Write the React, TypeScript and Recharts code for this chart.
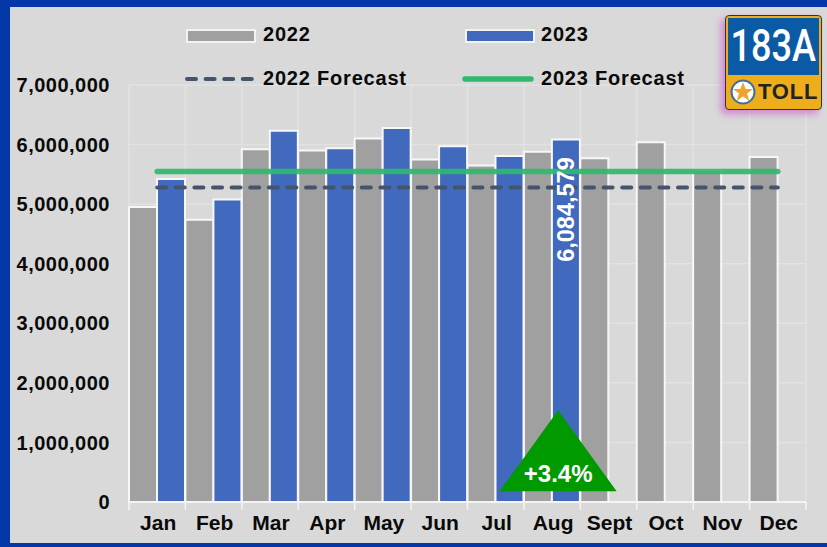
import React from "react";
import { ComposedChart, Bar, Line, XAxis, YAxis, CartesianGrid, ReferenceDot } from "recharts";

const months = ["Jan", "Feb", "Mar", "Apr", "May", "Jun", "Jul", "Aug", "Sept", "Oct", "Nov", "Dec"];
const values2022 = [4950000, 4740000, 5920000, 5900000, 6100000, 5750000, 5650000, 5880000, 5770000, 6040000, 5570000, 5790000];
const values2023 = [5420000, 5080000, 6230000, 5940000, 6280000, 5970000, 5810000, 6084579, null, null, null, null];
const forecast2022 = [5280000, 5280000, 5280000, 5280000, 5280000, 5280000, 5280000, 5280000, 5280000, 5280000, 5280000, 5280000];
const forecast2023 = [5550000, 5550000, 5550000, 5550000, 5550000, 5550000, 5550000, 5550000, 5550000, 5550000, 5550000, 5550000];
const yTicks = [0, 1000000, 2000000, 3000000, 4000000, 5000000, 6000000, 7000000];
const labeledMonth = "Aug";
const changeLabel = "+3.4%";

const data = months.map((m, i) => ({
  month: m,
  y2022: values2022[i],
  y2023: values2023[i],
  f2022: forecast2022[i],
  f2023: forecast2023[i],
}));

const FONT = "'Liberation Sans', Arial, sans-serif";
const GRAY = "#a0a0a0";
const BLUE = "#4169be";
const GREEN = "#2fb86e";
const SLATE = "#44546a";
const PLOT_LEFT = 129;
const PLOT_W = 677;
const BAND = PLOT_W / 12;

const XTick = (props: any) => {
  const { x, y, payload, index } = props;
  const bx = x - BAND / 2;
  return (
    <g>
      <line x1={bx} x2={bx} y1={y - 8} y2={y} stroke="#f4f4f4" strokeWidth={1.5} />
      {index === 11 && <line x1={bx + BAND} x2={bx + BAND} y1={y - 8} y2={y} stroke="#f4f4f4" strokeWidth={1.5} />}
      <text x={x + 1} y={y + 20} textAnchor="middle" fontFamily={FONT} fontWeight={700} fontSize={21} fill="#0a0a0a">
        {payload.value}
      </text>
    </g>
  );
};

const AugLabel = (props: any) => {
  const { x, y, width, index, value } = props;
  if (months[index] !== labeledMonth) return null;
  const cx = x + width / 2;
  const cy = y + 70;
  return (
    <text
      x={cx}
      y={cy}
      transform={`rotate(-90 ${cx} ${cy})`}
      textAnchor="middle"
      dominantBaseline="central"
      fontFamily={FONT}
      fontWeight={700}
      fontSize={23.5}
      fill="#fff"
    >
      {Number(value).toLocaleString("en-US")}
    </text>
  );
};

const Triangle = (props: any) => {
  const { cx, cy } = props;
  const ax = cx + 6;
  return (
    <g>
      <polygon points={`${ax},${cy} ${ax + 58.5},${cy + 81} ${ax - 58.5},${cy + 81}`} fill="#009900" />
      <text x={ax} y={cy + 72} textAnchor="middle" fontFamily={FONT} fontWeight={700} fontSize={24} fill="#fff">
        {changeLabel}
      </text>
    </g>
  );
};

const legendText: React.CSSProperties = {
  position: "absolute",
  fontFamily: FONT,
  fontWeight: 700,
  fontSize: 20,
  letterSpacing: 0.8,
  color: "#0a0a0a",
  lineHeight: "22px",
  whiteSpace: "nowrap",
};

const LegendSwatch = ({ x, y, color }: { x: number; y: number; color: string }) => (
  <div
    style={{
      position: "absolute",
      left: x,
      top: y,
      width: 66,
      height: 10,
      background: color,
      border: "2px solid #f2f2f2",
      boxSizing: "content-box",
    }}
  />
);

const LegendLine = ({ x, y, color, dashed }: { x: number; y: number; color: string; dashed?: boolean }) => (
  <svg style={{ position: "absolute", left: x, top: y - 5 }} width={72} height={10}>
    <line
      x1={3}
      x2={69}
      y1={5}
      y2={5}
      stroke={color}
      strokeWidth={dashed ? 4 : 5.5}
      strokeLinecap="round"
      strokeDasharray={dashed ? "9 9.6" : undefined}
    />
  </svg>
);

const Logo = () => (
  <div
    style={{
      position: "absolute",
      left: 725,
      top: 15,
      width: 97,
      height: 95,
      boxSizing: "border-box",
      background: "#eeae1b",
      border: "1px solid #333",
      borderRadius: 4,
      boxShadow: "-4px 4px 7px rgba(205,90,205,0.65)",
    }}
  >
    <div
      style={{
        position: "absolute",
        left: 2,
        top: 2,
        width: 91,
        height: 57,
        background: "#0b5aa6",
        color: "#fff",
        fontFamily: "'Roboto', sans-serif",
        fontWeight: 500,
        fontSize: 44,
        lineHeight: "57px",
        textAlign: "center",
      }}
    >
      <span style={{ display: "inline-block", transform: "scaleX(0.82)", transformOrigin: "center", marginLeft: -20, marginRight: -20 }}>183A</span>
    </div>
    <svg style={{ position: "absolute", left: 4, top: 63 }} width={26} height={26} viewBox="0 0 26 26">
      <circle cx={13} cy={13} r={11.5} fill="#fff" stroke="#3f6f9f" strokeWidth={2} />
      <polygon points="13,3 15.6,10 23,10 17,14.6 19.4,22 13,17.6 6.6,22 9,14.6 3,10 10.4,10" fill="#eea52a" />
    </svg>
    <div
      style={{
        position: "absolute",
        left: 32,
        top: 63,
        fontFamily: FONT,
        fontWeight: 700,
        fontSize: 22,
        lineHeight: "26px",
        letterSpacing: 0.8,
        color: "#222",
      }}
    >
      TOLL
    </div>
  </div>
);

export default function App() {
  return (
    <div
      style={{
        position: "absolute",
        left: 0,
        top: 0,
        width: 827,
        height: 547,
        boxSizing: "border-box",
        background: "#d9d9d9",
        borderStyle: "solid",
        borderColor: "#0437a8",
        borderWidth: "7px 0 4px 10px",
        overflow: "hidden",
      }}
    >
      <div style={{ position: "absolute", left: -10, top: -7, width: 827, height: 547 }}>
        <ComposedChart
          width={827}
          height={547}
          data={data}
          margin={{ top: 85, right: 21, bottom: 0, left: 0 }}
          barCategoryGap={0}
          barGap={0}
        >
          <CartesianGrid
            stroke="#e2e2e2"
            strokeWidth={1.5}
            verticalCoordinatesGenerator={({ offset }: any) =>
              months.map((_, i) => offset.left + (i * offset.width) / 12).concat(offset.left + offset.width)
            }
          />
          <XAxis
            dataKey="month"
            height={45}
            interval={0}
            axisLine={{ stroke: "#f4f4f4", strokeWidth: 2 }}
            tickLine={false}
            tick={<XTick />}
          />
          <YAxis
            width={PLOT_LEFT}
            domain={[0, 7000000]}
            ticks={yTicks}
            interval={0}
            axisLine={false}
            tickLine={false}
            tickMargin={13}
            tickFormatter={(v: number) => v.toLocaleString("en-US")}
            tick={{ fontFamily: FONT, fontWeight: 700, fontSize: 20, letterSpacing: 0.5, fill: "#0a0a0a" }}
          />
          <Bar dataKey="y2022" fill={GRAY} stroke="#f7f7f7" strokeWidth={2} isAnimationActive={false} />
          <Bar
            dataKey="y2023"
            fill={BLUE}
            stroke="#f7f7f7"
            strokeWidth={2}
            isAnimationActive={false}
            label={<AugLabel />}
          />
          <Line
            dataKey="f2022"
            stroke={SLATE}
            strokeWidth={4}
            strokeLinecap="round"
            strokeDasharray="9 9.6"
            dot={false}
            activeDot={false}
            isAnimationActive={false}
          />
          <Line
            dataKey="f2023"
            stroke={GREEN}
            strokeOpacity={0.92}
            strokeWidth={5.5}
            strokeLinecap="round"
            dot={false}
            activeDot={false}
            isAnimationActive={false}
          />
          <ReferenceDot x={labeledMonth} y={1540000} shape={<Triangle />} ifOverflow="visible" />
        </ComposedChart>
      </div>
      <div style={{ position: "absolute", left: -10, top: -7, width: 827, height: 547 }}>
        <LegendSwatch x={186} y={29} color={GRAY} />
        <div style={{ ...legendText, left: 263, top: 23 }}>2022</div>
        <LegendSwatch x={465} y={29} color={BLUE} />
        <div style={{ ...legendText, left: 541, top: 23 }}>2023</div>
        <LegendLine x={184} y={79} color={SLATE} dashed />
        <div style={{ ...legendText, left: 263, top: 67 }}>2022 Forecast</div>
        <LegendLine x={462} y={79} color={GREEN} />
        <div style={{ ...legendText, left: 541, top: 67 }}>2023 Forecast</div>
        <Logo />
      </div>
    </div>
  );
}
